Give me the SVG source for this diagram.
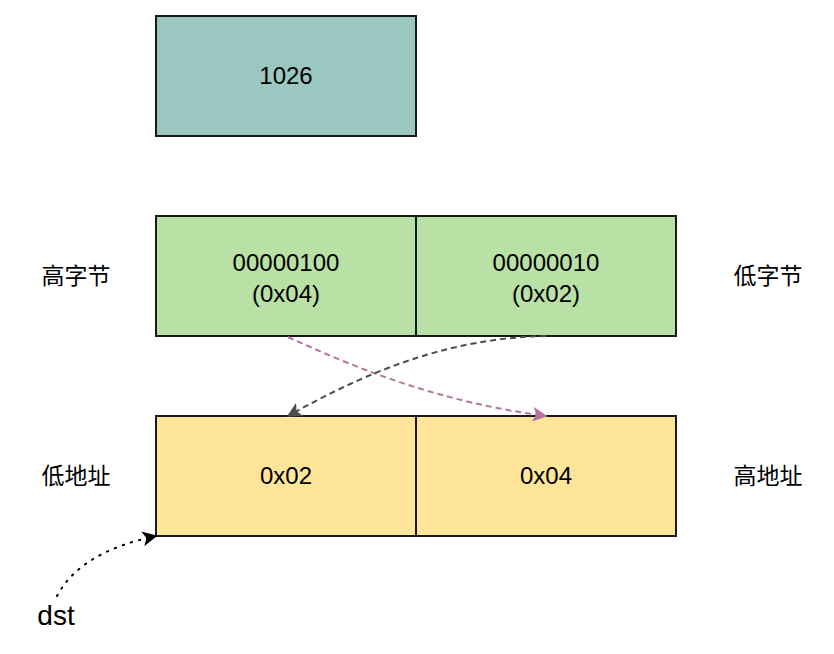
<svg xmlns="http://www.w3.org/2000/svg" width="834" height="654" viewBox="0 0 834 654">
<style>
.box{stroke:#1a1a1a;stroke-width:2}
.t{font-family:"Liberation Sans","Noto Sans CJK SC",Arial,sans-serif;font-size:24px;fill:#000;text-anchor:middle}
.cjk{font-family:"Noto Sans CJK SC","Liberation Sans",sans-serif;font-size:23px;fill:#000;text-anchor:middle}
</style>
<defs>
<marker id="ap" viewBox="0 0 10 10" refX="9" refY="5" markerWidth="15" markerHeight="15" markerUnits="userSpaceOnUse" orient="auto"><path d="M0,0 L10,5 L0,10 L2.5,5 Z" fill="#B5739D"/></marker>
<marker id="ad" viewBox="0 0 10 10" refX="9" refY="5" markerWidth="15" markerHeight="15" markerUnits="userSpaceOnUse" orient="auto"><path d="M0,0 L10,5 L0,10 L2.5,5 Z" fill="#4D4D4D"/></marker>
<marker id="ab" viewBox="0 0 10 10" refX="9" refY="5" markerWidth="15" markerHeight="15" markerUnits="userSpaceOnUse" orient="auto"><path d="M0,0 L10,5 L0,10 L2.5,5 Z" fill="#000"/></marker>
</defs>
<rect width="834" height="654" fill="#fff"/>
<g id="n1026"><rect class="box" x="156" y="16" width="260" height="120" fill="#9AC7BF" stroke="#333"/><text class="t" x="286" y="84">1026</text></g>
<g id="hibyte"><rect class="box" x="156" y="216" width="260" height="120" fill="#B9E0A5"/><text class="t" x="286" y="271">00000100</text><text class="t" x="286" y="302">(0x04)</text></g>
<g id="lobyte"><rect class="box" x="416" y="216" width="260" height="120" fill="#B9E0A5"/><text class="t" x="546" y="271">00000010</text><text class="t" x="546" y="302">(0x02)</text></g>
<g id="loaddr"><rect class="box" x="156" y="416" width="260" height="120" fill="#FFE599"/><text class="t" x="286" y="484">0x02</text></g>
<g id="hiaddr"><rect class="box" x="416" y="416" width="260" height="120" fill="#FFE599"/><text class="t" x="546" y="484">0x04</text></g>
<g id="lbl-hibyte"><text class="cjk" x="76" y="284">高字节</text></g>
<g id="lbl-lobyte"><text class="cjk" x="768" y="284">低字节</text></g>
<g id="lbl-loaddr"><text class="cjk" x="76" y="484">低地址</text></g>
<g id="lbl-hiaddr"><text class="cjk" x="768" y="484">高地址</text></g>
<g id="lbl-dst"><text class="t" x="56" y="625" style="font-size:28px">dst</text></g>
<g id="connectors" fill="none">
<path d="M288,337 C360,370 440,402 546,416" stroke="#B5739D" stroke-width="2" stroke-dasharray="6,4" marker-end="url(#ap)"/>
<path d="M546,336 C450,338 370,370 288,416" stroke="#4D4D4D" stroke-width="2" stroke-dasharray="6,4" marker-end="url(#ad)"/>
<path d="M57,596 Q80,552 156,536" stroke="#000" stroke-width="2" stroke-dasharray="1.5,7" stroke-linecap="round" marker-end="url(#ab)"/>
</g>
</svg>
